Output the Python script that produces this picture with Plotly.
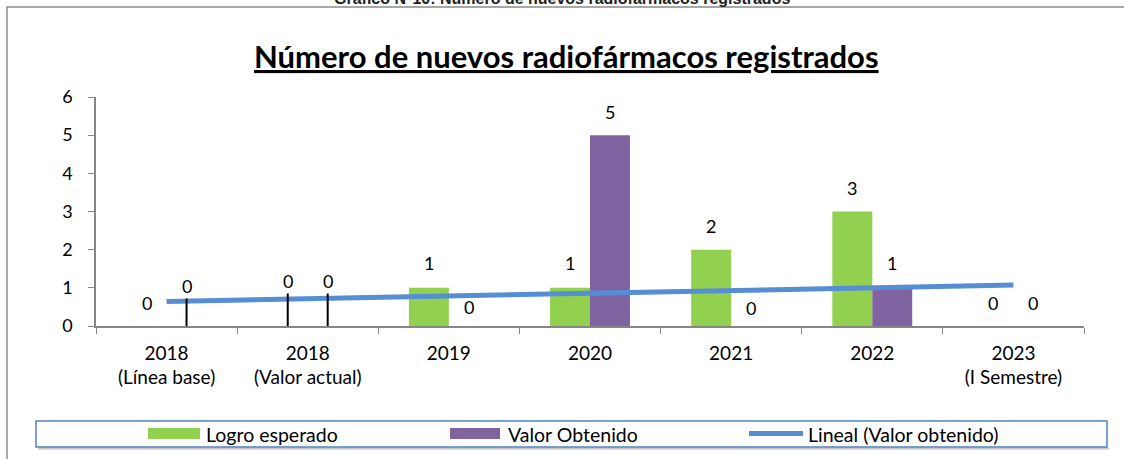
import numpy as np
import plotly.graph_objects as go

# ---- data ----
categories = ["2018<br>(Línea base)", "2018<br>(Valor actual)", "2019", "2020",
              "2021", "2022", "2023<br>(I Semestre)"]
logro_esperado = [0, 0, 1, 1, 2, 3, 0]
valor_obtenido = [0, 0, 0, 5, 0, 1, 0]
y_ticks = [0, 1, 2, 3, 4, 5, 6]
series_names = ["Logro esperado", "Valor Obtenido", "Lineal (Valor obtenido)"]
header_text = "Gráfico N°10: Número de nuevos radiofármacos registrados"
title_text = "Número de nuevos radiofármacos registrados"

# ---- styles ----
GREEN = "#92D050"
PURPLE = "#8064A2"
BLUE = "#558ED5"
AXIS = "#868686"
FONT = "Lato"
W, H = 1124, 459
ML, MR, MT, MB = 96, 40, 97, 133
BARGAP = 0.434

# label vertical offsets in px (positive = up) and leader-line flags
green_shift = [23, 45, 25, 25, 24, 24, 23]
green_leader = [False, True, False, False, False, False, False]
purple_shift = [40, 45, 19, 23, 18, 25, 23]
purple_leader = [True, True, False, False, False, False, False]

pw = W - ML - MR
ph = H - MT - MB


def px(x):
    return (x - ML) / pw


def py(y):
    return (H - MB - y) / ph


fig = go.Figure()
fig.add_trace(go.Bar(x=categories, y=logro_esperado, name=series_names[0],
                     marker=dict(color=GREEN, line=dict(width=0)), showlegend=False))
fig.add_trace(go.Bar(x=categories, y=valor_obtenido, name=series_names[1],
                     marker=dict(color=PURPLE, line=dict(width=0)), showlegend=False))

# linear trend of Valor Obtenido
idx = np.arange(1, len(categories) + 1)
slope, intercept = np.polyfit(idx, valor_obtenido, 1)
trend = slope * idx + intercept
fig.add_trace(go.Scatter(x=categories, y=trend, mode="lines", name=series_names[2],
                         line=dict(color=BLUE, width=5), showlegend=False))

annotations = []
off = (1 - BARGAP) / 4
for series, shifts, leaders, sign in [(logro_esperado, green_shift, green_leader, -1),
                                      (valor_obtenido, purple_shift, purple_leader, 1)]:
    for i, v in enumerate(series):
        xpos = i + sign * off
        if leaders[i]:
            annotations.append(dict(x=xpos, y=v, xref="x", yref="y", text=str(v),
                                    showarrow=True, arrowhead=0, arrowwidth=2,
                                    arrowcolor="black", ax=0, ay=-shifts[i], standoff=0,
                                    font=dict(family=FONT, size=18, color="black")))
        else:
            annotations.append(dict(x=xpos, y=v, xref="x", yref="y", text=str(v),
                                    showarrow=False, yshift=shifts[i],
                                    font=dict(family=FONT, size=18, color="black")))

# header (partly cut at top, as in the source) and chart title
annotations.append(dict(x=px(562), y=py(-1), xref="paper", yref="paper", text="<b>" + header_text + "</b>",
                        showarrow=False, xanchor="center", yanchor="middle",
                        font=dict(family="Liberation Sans", size=16, color="#222")))
annotations.append(dict(x=px(566), y=py(56), xref="paper", yref="paper",
                        text="<b><u>" + title_text + "</u></b>",
                        showarrow=False, xanchor="center", yanchor="middle",
                        font=dict(family=FONT, size=31, color="black")))

shapes = []
# outer frame
shapes.append(dict(type="rect", xref="paper", yref="paper", x0=px(7), x1=px(1140),
                   y0=py(7), y1=py(480), line=dict(color="#8c8c8c", width=1.5)))
# legend box
shapes.append(dict(type="line", xref="paper", yref="paper", x0=px(38), x1=px(1109),
                   y0=py(448.5), y1=py(448.5), line=dict(color="#c8c8c8", width=2)))
shapes.append(dict(type="rect", xref="paper", yref="paper", x0=px(36), x1=px(1107),
                   y0=py(421), y1=py(447), line=dict(color="#4F81BD", width=1.5),
                   fillcolor="white"))
# legend swatches
shapes.append(dict(type="rect", xref="paper", yref="paper", x0=px(148), x1=px(200),
                   y0=py(428), y1=py(439), line=dict(width=0), fillcolor=GREEN))
shapes.append(dict(type="rect", xref="paper", yref="paper", x0=px(450), x1=px(500),
                   y0=py(428), y1=py(439), line=dict(width=0), fillcolor=PURPLE))
shapes.append(dict(type="line", xref="paper", yref="paper", x0=px(749), x1=px(803),
                   y0=py(433.5), y1=py(433.5), line=dict(color=BLUE, width=5)))
for xt, name in zip([204, 506, 806], series_names):
    annotations.append(dict(x=px(xt), y=py(434), xref="paper", yref="paper", text=name,
                            showarrow=False, xanchor="left", yanchor="middle",
                            font=dict(family=FONT, size=19.5, color="black")))

fig.update_layout(
    width=W, height=H,
    margin=dict(l=ML, r=MR, t=MT, b=MB, pad=0),
    paper_bgcolor="white", plot_bgcolor="white",
    barmode="group", bargap=BARGAP, bargroupgap=0,
    showlegend=False,
    annotations=annotations, shapes=shapes,
    xaxis=dict(type="category", tickson="boundaries", ticks="outside", ticklen=6,
               tickcolor=AXIS, showline=True, linecolor=AXIS, linewidth=1.5,
               showgrid=False, zeroline=False, range=[-0.5, 6.5],
               tickfont=dict(family=FONT, size=19, color="black"),
               ticklabelstandoff=9),
    yaxis=dict(range=[0, 6], tickvals=y_ticks, ticks="outside", ticklen=6,
               tickcolor=AXIS, showline=True, linecolor=AXIS, linewidth=1.5,
               showgrid=False, zeroline=False,
               tickfont=dict(family=FONT, size=18, color="black"),
               ticklabelstandoff=12),
)

fig.write_html("out.html", config={"displayModeBar": False},
               post_script="document.body.style.margin='0';document.body.style.overflow='hidden';")
